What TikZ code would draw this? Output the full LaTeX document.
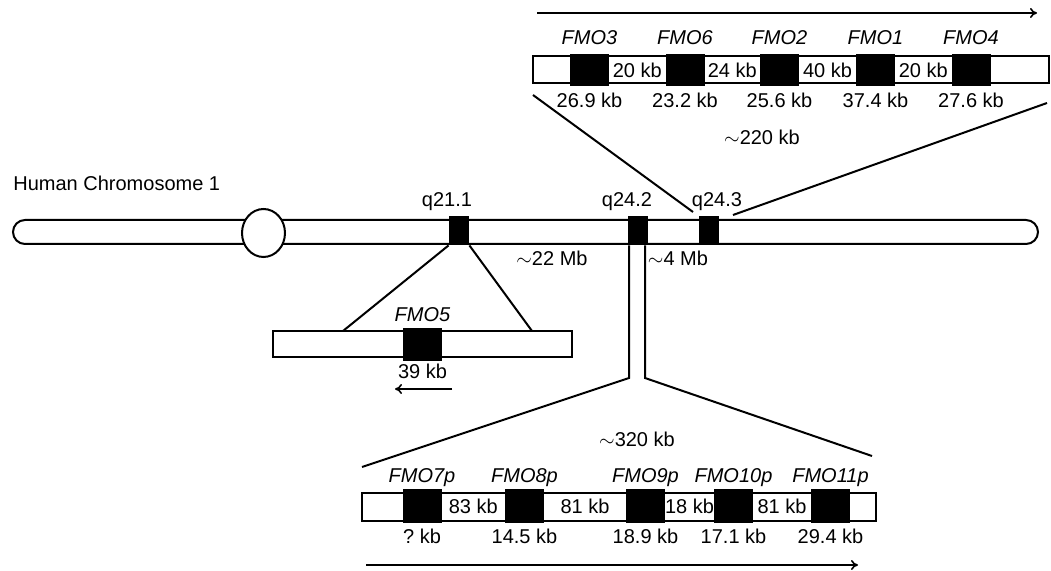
\documentclass[tikz,border=0pt]{standalone}
\usepackage{fontspec}
\setmainfont{Liberation Sans}
\usetikzlibrary{shapes.misc,positioning,arrows.meta,calc}

\begin{document}
\begin{tikzpicture}[
    x=0.5pt, y=-0.5pt,
    font=\fontsize{10}{12}\selectfont,
    chromosome/.style={rounded rectangle, draw, line width=1pt, fill=white, minimum width=512.5pt, minimum height=12pt, inner sep=0pt},
    region/.style={rectangle, draw, line width=1pt, fill=white, inner sep=0pt},
    gene/.style={rectangle, fill=black, minimum width=19.5pt, inner sep=0pt},
    band/.style={rectangle, fill=black, minimum width=10pt, minimum height=14.5pt, inner sep=0pt},
    genename/.style={font=\fontsize{10}{12}\selectfont\itshape, inner sep=0pt, anchor=base},
    kblabel/.style={inner sep=0pt, anchor=base},
    link/.style={line width=1pt},
    arrow/.style={-{To[length=3.5pt,width=5pt]}, line width=0.8pt},
]
\useasboundingbox (0,0) rectangle (1051,571);

% ================== Chromosome ==================
\node[anchor=west, inner sep=0pt] (chrTitle) at (13,183) {Human Chromosome 1};
\node[chromosome] (chr) at (525.5,232) {};
\draw[line width=1pt, fill=white] (263.5,233) ellipse [x radius=21.5, y radius=24];
\node[band] (q211) at (459,230.5) {};
\node[band] (q242) at (638,230.5) {};
\node[band] (q243) at (709,230.5) {};
\node[kblabel] at (447,207) {q21.1};
\node[kblabel] at (627,207) {q24.2};
\node[kblabel] at (717,207) {q24.3};
\node (mb22) at (552,258) {$\sim$22 Mb};
\node (mb4) at (678,258) {$\sim$4 Mb};

% ================== FMO cluster q24.3 ==================
\draw[arrow] (537,13) coordinate (ta) -- (1037,13) coordinate (tb);
\node[region, minimum width=258pt, minimum height=13.5pt] (topbox) at (791,69.5) {};
\foreach \x/\g/\s [count=\i] in {589.5/FMO3/26.9, 685/FMO6/23.2, 779.5/FMO2/25.6, 875.5/FMO1/37.4, 971/FMO4/27.6} {
    \node[gene, minimum height=16pt] (t\i) at (\x,70) {};
    \node[genename] at ([yshift=4.5pt]t\i.north) {\g};
    \node[kblabel] at ([yshift=-10.5pt]t\i.south) {\s\ kb};
}
\foreach \a/\b/\d in {1/2/20, 2/3/24, 3/4/40, 4/5/20}
    \node[inner sep=0pt] at ($(t\a.east)!0.5!(t\b.west)$) {\d\ kb};
\node (kb220) at (762,137) {$\sim$220 kb};

\coordinate (topL) at (533,95);
\coordinate (topR) at (1047,103);
\coordinate (q243L) at (693,212);
\coordinate (q243R) at (733,215);
\draw[link] (topL) -- (q243L);
\draw[link] (topR) -- (q243R);

% ================== FMO5 at q21.1 ==================
\node[region, minimum width=149.5pt, minimum height=13pt] (fmo5box) at (422.5,344) {};
\node[gene, minimum height=16.5pt] (f5) at (422.5,344.5) {};
\node[genename] at ([yshift=3pt]f5.north) {FMO5};
\node[kblabel] at ([yshift=-8.5pt]f5.south) {39 kb};
\draw[arrow] (452,389) coordinate (fa) -- (395,389) coordinate (fb);
\coordinate (f5L) at (343,331);
\coordinate (f5R) at (532,331);
\draw[link] (q211.south west) -- (f5L);
\draw[link] (q211.south east) -- (f5R);

% ================== Pseudogene cluster q24.2 ==================
\coordinate (tubeL) at (629,378);
\coordinate (tubeR) at (645,378);
\coordinate (botL) at (362,467);
\coordinate (botR) at (872,456);
\draw[link] (q242.south west -| tubeL) -- (tubeL) -- (botL);
\draw[link] (q242.south east -| tubeR) -- (tubeR) -- (botR);
\node (kb320) at (637,439) {$\sim$320 kb};

\node[region, minimum width=257pt, minimum height=14pt] (botbox) at (619,507) {};
\foreach \x/\g/\s [count=\i] in {422/FMO7/?, 524.5/FMO8/14.5, 645.5/FMO9/18.9, 733.5/FMO10/17.1, 830.5/FMO11/29.4} {
    \node[gene, minimum height=17pt] (b\i) at (\x,506) {};
    \node[genename] at ([yshift=3pt]b\i.north) {\g p};
    \node[kblabel] at ([yshift=-10pt]b\i.south) {\s\ kb};
}
\foreach \a/\b/\d in {1/2/83, 2/3/81, 3/4/18, 4/5/81}
    \node[inner sep=0pt] at ($(b\a.east)!0.5!(b\b.west)$) {\d\ kb};
\draw[arrow] (366,565) coordinate (ba) -- (858,565) coordinate (bb);

\end{tikzpicture}
\end{document}
